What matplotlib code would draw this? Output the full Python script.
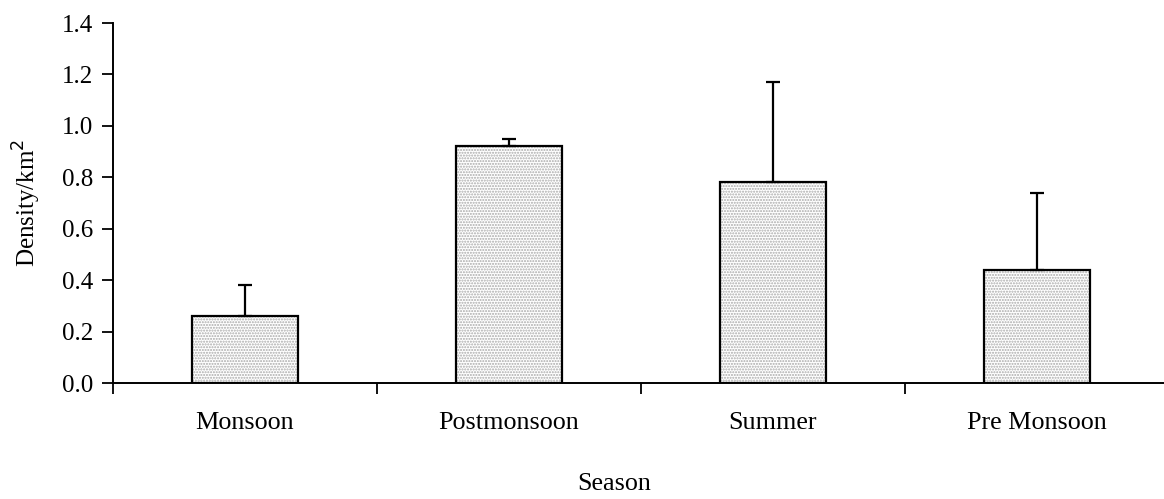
import numpy as np
import matplotlib.pyplot as plt

plt.rcParams.update({'font.size': 18, 'font.family': 'Liberation Serif',
                     'hatch.linewidth': 1.0})

# datos
seasons = ['Monsoon', 'Postmonsoon', 'Summer', 'Pre Monsoon']
density = [0.26, 0.92, 0.78, 0.44]
err_up = [0.12, 0.03, 0.39, 0.30]
yticks = [0.0, 0.2, 0.4, 0.6, 0.8, 1.0, 1.2, 1.4]

fig = plt.figure(figsize=(11.64, 4.99), dpi=100)
ax = fig.add_axes([113/1164, 116/499, 1056/1164, 360/499])

x = np.arange(len(seasons))
w = 0.4
# relleno punteado
ax.bar(x, density, width=w, color='white', edgecolor='#aaaaaa',
       hatch='......', linewidth=0, zorder=2)
# contorno
ax.bar(x, density, width=w, fill=False, edgecolor='black', linewidth=1.6, zorder=3)
ax.errorbar(x, density, yerr=[np.zeros(len(x)), err_up], fmt='none',
            ecolor='black', elinewidth=1.6, capsize=5, capthick=1.6, zorder=4)

ax.set_xlim(-0.5, 3.5)
ax.set_ylim(0, 1.4)
ax.set_yticks(yticks)
ax.set_yticklabels(['%.1f' % v for v in yticks])
ax.set_xticks(np.arange(-0.5, 4, 1.0))
ax.set_xticklabels([])
ax.set_xticks(x, minor=True)
ax.set_xticklabels(seasons, minor=True, fontsize=18.8)
ax.tick_params(axis='x', which='minor', length=0, pad=21)
ax.tick_params(axis='both', which='major', direction='out', length=8, width=1.3)
ax.tick_params(axis='y', pad=6)

for s in ['top', 'right']:
    ax.spines[s].set_visible(False)
for s in ['left', 'bottom']:
    ax.spines[s].set_linewidth(1.4)

ax.set_ylabel('Density/km$^2$', labelpad=14)
fig.text(614/1164, 1 - 484/499, 'Season', ha='center', va='center', fontsize=18.8)

plt.savefig('out.png', dpi=100)
